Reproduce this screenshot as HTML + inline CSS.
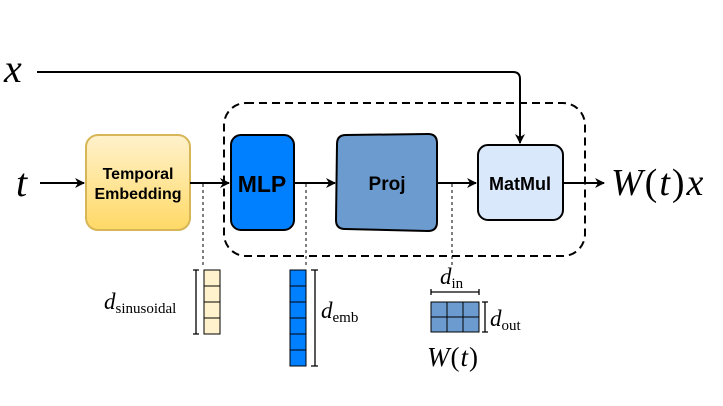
<!DOCTYPE html>
<html><head><style>
body{margin:0;background:#fff;}
svg text{font-family:"Liberation Serif",serif;}
.b{font-family:"Liberation Sans",sans-serif;font-weight:bold;}
</style></head><body>
<svg width="723" height="401" viewBox="0 0 723 401" xmlns="http://www.w3.org/2000/svg">
<defs>
<marker id="a" markerWidth="10" markerHeight="10" refX="9" refY="5" orient="auto" markerUnits="userSpaceOnUse"><path d="M0,0 L10,5 L0,10 L3,5 z" fill="#000"/></marker>
<linearGradient id="g" x1="0" y1="0" x2="0" y2="1"><stop offset="0" stop-color="#fff2cc"/><stop offset="1" stop-color="#ffd966"/></linearGradient>
</defs>
<rect x="0" y="0" width="723" height="401" fill="#fff"/>
<rect x="224" y="103" width="361" height="153" rx="22" fill="none" stroke="#000" stroke-width="2" stroke-dasharray="8,5"/>
<text x="4" y="82" font-size="40" font-style="italic">x</text>
<path d="M37,72 H513 Q520,72 520,79 V143" fill="none" stroke="#000" stroke-width="2" marker-end="url(#a)"/>
<text x="16" y="196" font-size="40" font-style="italic">t</text>
<line x1="40" y1="183" x2="84" y2="183" stroke="#000" stroke-width="2" marker-end="url(#a)"/>
<rect x="86" y="135" width="104" height="95" rx="12" fill="url(#g)" stroke="#d6b656" stroke-width="2"/>
<text x="138" y="179" font-size="16" class="b" text-anchor="middle">Temporal</text>
<text x="138" y="199" font-size="16" class="b" text-anchor="middle">Embedding</text>
<line x1="190" y1="183" x2="229" y2="183" stroke="#000" stroke-width="2" marker-end="url(#a)"/>
<rect x="231" y="135" width="63" height="95" rx="10" fill="#007fff" stroke="#000" stroke-width="2"/>
<text x="262" y="192" font-size="23" class="b" text-anchor="middle">MLP</text>
<line x1="294" y1="183" x2="335" y2="183" stroke="#000" stroke-width="2" marker-end="url(#a)"/>
<path d="M346,135 L428,134 Q437,134 437,143 L437,222 Q437,231 428,231 L345,229 Q336,229 336,220 L337,144 Q337,135 346,135 z" fill="#6c9bcf" stroke="#000" stroke-width="2"/>
<text x="387" y="190" font-size="19" class="b" text-anchor="middle">Proj</text>
<line x1="437" y1="183" x2="476" y2="183" stroke="#000" stroke-width="2" marker-end="url(#a)"/>
<rect x="478" y="145" width="85" height="75" rx="10" fill="#dae8fc" stroke="#000" stroke-width="2"/>
<text x="520" y="190" font-size="18" class="b" text-anchor="middle">MatMul</text>
<line x1="563" y1="183" x2="604" y2="183" stroke="#000" stroke-width="2" marker-end="url(#a)"/>
<text x="611" y="195" font-size="38" font-style="italic" letter-spacing="2">W<tspan font-style="normal">(</tspan>t<tspan font-style="normal">)</tspan>x</text>
<g stroke="#000" stroke-width="1" stroke-dasharray="3,3">
<line x1="203" y1="184" x2="203" y2="266"/>
<line x1="306" y1="184" x2="306" y2="266"/>
<line x1="452" y1="184" x2="452" y2="268"/>
</g>
<g stroke="#000" stroke-width="1" fill="#fff2cc">
<rect x="204" y="270" width="16" height="16"/><rect x="204" y="286" width="16" height="16"/><rect x="204" y="302" width="16" height="16"/><rect x="204" y="318" width="16" height="16"/>
</g>
<path d="M193,270 H199 M196,270 V334 M193,334 H199" stroke="#000" stroke-width="1.3" fill="none"/>
<text x="104" y="309" font-size="23" font-style="italic">d<tspan font-style="normal" font-size="15" dy="4">sinusoidal</tspan></text>
<g stroke="#000" stroke-width="1" fill="#007fff">
<rect x="290" y="270" width="16" height="16"/><rect x="290" y="286" width="16" height="16"/><rect x="290" y="302" width="16" height="16"/><rect x="290" y="318" width="16" height="16"/><rect x="290" y="334" width="16" height="16"/><rect x="290" y="350" width="16" height="16"/>
</g>
<path d="M311,270 H318 M315,270 V366 M311,366 H318" stroke="#000" stroke-width="1.3" fill="none"/>
<text x="321" y="318" font-size="23" font-style="italic">d<tspan font-style="normal" font-size="15" dy="4">emb</tspan></text>
<g stroke="#000" stroke-width="1" fill="#6c9bcf">
<rect x="431" y="302" width="16" height="15"/><rect x="447" y="302" width="16" height="15"/><rect x="463" y="302" width="16" height="15"/>
<rect x="431" y="317" width="16" height="15"/><rect x="447" y="317" width="16" height="15"/><rect x="463" y="317" width="16" height="15"/>
</g>
<path d="M431,289 V295 M431,292 H479 M479,289 V295" stroke="#000" stroke-width="1.3" fill="none"/>
<text x="440" y="284" font-size="23" font-style="italic">d<tspan font-style="normal" font-size="15" dy="4">in</tspan></text>
<path d="M482,302 H488 M485,302 V332 M482,332 H488" stroke="#000" stroke-width="1.3" fill="none"/>
<text x="490" y="326" font-size="23" font-style="italic">d<tspan font-style="normal" font-size="15" dy="4">out</tspan></text>
<text x="427" y="366" font-size="27" font-style="italic" letter-spacing="1">W<tspan font-style="normal">(</tspan>t<tspan font-style="normal">)</tspan></text>
</svg>
</body></html>
